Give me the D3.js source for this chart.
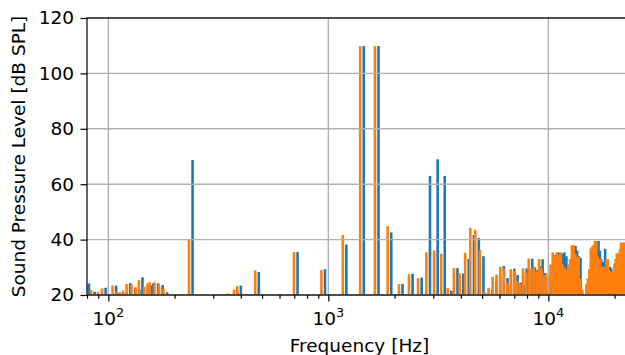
<!DOCTYPE html>
<html>
<head>
<meta charset="utf-8">
<script src="https://cdn.jsdelivr.net/npm/d3@7"></script>
<style>
  html, body { margin: 0; padding: 0; background: #fff; }
  svg { display: block; }
  text { font-family: "DejaVu Sans", sans-serif; fill: #000; }
</style>
</head>
<body>
<svg id="chart" width="625" height="355"></svg>
<script>
// ---- data ----
// Low-frequency components (Hz) below the fundamental
const lowFreqs  = [80.1, 85.0, 91.5, 95.4, 106.5, 111.0, 114.6, 118.9, 123.3, 129.9, 135.9, 140.3, 148.4, 153.6, 157.3, 165.3, 173.3, 181.6, 356.7, 379.8, 393.0];
const lowOrange = [19, 21.8, 21.2, 22.4, 23.4, 21, 21, 21.6, 24, 24, 22.8, 25.4, 23, 24.2, 24.6, 24.6, 23.6, 22.2, 20.6, 22, 23.2];
const lowBlue   = [24.2, 21.2, 20.5, 22.6, 23.4, 20.5, 20.8, 21, 24.3, 22.5, 22, 26.4, 22.5, 23.5, 24.2, 24.2, 23.6, 21, 19, 21, 23.4];

// Harmonic components (Hz)
const harmFreqs = [237, 474, 711, 948, 1185, 1422, 1659, 1896, 2133, 2370, 2607, 2844, 3081, 3318, 3555, 3792, 4029, 4266, 4503, 4740,
  4977, 5214, 5451, 5688, 5925, 6162, 6399, 6636, 6873, 7110, 7347, 7584, 7821, 8058, 8295, 8532, 8769, 9006, 9243, 9480,
  9717, 9954, 10191, 10428, 10665, 10902, 11139, 11376, 11613, 11850, 12087, 12324, 12561, 12798, 13035, 13272, 13509, 13746, 13983, 14220,
  14457, 14694, 14931, 15168, 15405, 15642, 15879, 16116, 16353, 16590, 16827, 17064, 17301, 17538, 17775, 18012, 18249, 18486, 18723, 18960,
  19197, 19434, 19671, 19908, 20145, 20382, 20619, 20856, 21093, 21330, 21567, 21804, 22041, 22278, 22515, 22752, 22989];
const harmOrange = [40, 28.9, 35.5, 29, 41.7, 109.9, 109.9, 44.9, 23.9, 27.5, 26.1, 35.4, 36.1, 34.9, 22.5, 29.7, 27.8, 35.3, 44.3, 43.5,
  36.2, 21.2, 22.6, 26.6, 27.4, 30.2, 29.6, 24.5, 29.3, 28.7, 25, 24, 29.6, 28, 33.2, 29.5, 30.2, 28.5, 33, 29.6,
  27, 27.8, 25.7, 31, 35.4, 34.5, 35.4, 34.5, 35.4, 31, 30, 29, 31, 33, 38, 38, 35, 33.8, 33.8, 26,
  22, 19, 19, 24, 26, 29.3, 36.8, 37.5, 38, 39.5, 39.5, 34, 32.9, 32.9, 30.2, 30.2, 29, 30, 32.9, 32.9,
  29, 28.4, 28.4, 28.4, 28.4, 30.5, 33, 35, 35, 33, 36.5, 38.9, 38.9, 38.9, 38.9, 35, 34];
const harmBlue = [68.7, 28.3, 35.5, 29.3, 38.2, 109.9, 109.9, 42.6, 24, 27.7, 26.3, 63, 69, 63, 21.6, 29.7, 27.8, 33, 41.7, 40.6,
  34, 20.6, 22, 25, 26.5, 30.5, 26.1, 24, 29.5, 27.2, 24.5, 23.5, 29.6, 27.5, 33.1, 30, 29, 30.4, 32.9, 28,
  26, 27, 24.5, 30, 34, 35.4, 33.5, 35, 35.4, 34, 28.5, 30, 30.5, 32, 37.7, 36, 34, 33.4, 21.8, 19,
  19, 21, 20.5, 23, 25, 28, 35, 36.5, 37, 39.5, 36, 33, 32, 31, 36.7, 30, 28.5, 29, 30.2, 29.5,
  28, 27.5, 31.4, 27, 26.5, 29, 32, 34, 33, 36, 37.5, 38, 38.9, 38.9, 37.5, 36, 35];

const yTicks = [20, 40, 60, 80, 100, 120];
const xMajorTicks = [100, 1000, 10000];
const xMajorExp = ["2", "3", "4"];
const xMinorTicks = [80, 90, 200, 300, 400, 500, 600, 700, 800, 900, 2000, 3000, 4000, 5000, 6000, 7000, 8000, 9000, 20000];

const xLabel = "Frequency [Hz]";
const yLabel = "Sound Pressure Level [dB SPL]";

// ---- layout ----
const mLeft = 87, mRight = 632, mTop = 18, mBottom = 295;
const svg = d3.select("#chart");
const x = d3.scaleLog().domain([80, 24000]).range([mLeft, mRight]);
const y = d3.scaleLinear().domain([20, 120]).range([mBottom, mTop]);

const fontSize = 18.5;
const tickLen = 6.5, minorLen = 3.7, pad = 6.5;
const barW = 2.6, gapOff = 0.5;
const blueC = "#1f77b4", orangeC = "#ff7f0e";

svg.append("defs").append("clipPath").attr("id", "clip")
  .append("rect").attr("x", mLeft).attr("y", mTop).attr("width", mRight - mLeft).attr("height", mBottom - mTop);

const series = [];
lowFreqs.forEach((f, i) => series.push({f, o: lowOrange[i], b: lowBlue[i]}));
harmFreqs.forEach((f, i) => series.push({f, o: harmOrange[i], b: harmBlue[i]}));

const plot = svg.append("g").attr("clip-path", "url(#clip)");

// blue bars (behind)
plot.append("g").selectAll("rect").data(series.filter(d => d.b > 20)).join("rect")
  .attr("x", d => x(d.f) + gapOff)
  .attr("width", barW)
  .attr("y", d => y(d.b))
  .attr("height", d => y(20) - y(d.b))
  .attr("fill", blueC);

// orange bars (front)
plot.append("g").selectAll("rect").data(series.filter(d => d.o > 20)).join("rect")
  .attr("x", d => x(d.f) - gapOff - barW)
  .attr("width", barW)
  .attr("y", d => y(d.o))
  .attr("height", d => y(20) - y(d.o))
  .attr("fill", orangeC);

// grid
const grid = svg.append("g").attr("stroke", "#b0b0b0").attr("stroke-width", 1.4);
grid.selectAll("line.h").data(yTicks).join("line").attr("class", "h")
  .attr("x1", mLeft).attr("x2", mRight).attr("y1", d => y(d)).attr("y2", d => y(d));
grid.selectAll("line.v").data(xMajorTicks).join("line").attr("class", "v")
  .attr("x1", d => x(d)).attr("x2", d => x(d)).attr("y1", mTop).attr("y2", mBottom);

// axes
const xAxisMajor = d3.axisBottom(x).tickValues(xMajorTicks).tickSize(tickLen).tickFormat("");
const xAxisMinor = d3.axisBottom(x).tickValues(xMinorTicks).tickSize(minorLen).tickFormat("");
const gxm = svg.append("g").attr("transform", `translate(0,${mBottom})`).call(xAxisMinor);
const gx = svg.append("g").attr("transform", `translate(0,${mBottom})`).call(xAxisMajor);
[gx, gxm].forEach(g => {
  g.select(".domain").remove();
  g.selectAll(".tick line").attr("stroke", "#000").attr("stroke-width", 1.2);
});

// x tick labels with superscripts
const xl = svg.append("g");
xMajorTicks.forEach((t, i) => {
  const txt = xl.append("text")
    .attr("x", x(t)).attr("y", 325)
    .attr("text-anchor", "middle")
    .attr("font-size", fontSize);
  txt.append("tspan").text("10");
  txt.append("tspan").attr("font-size", fontSize * 0.7).attr("dy", -8).text(xMajorExp[i]);
});

const yAxis = d3.axisLeft(y).tickValues(yTicks).tickSize(tickLen).tickPadding(pad);
const gy = svg.append("g").attr("transform", `translate(${mLeft},0)`).call(yAxis);
gy.select(".domain").remove();
gy.selectAll(".tick line").attr("stroke", "#000").attr("stroke-width", 1.2);
gy.selectAll(".tick text").attr("font-size", fontSize).attr("font-family", "DejaVu Sans").attr("fill", "#000");

// spines
const sp = svg.append("g").attr("stroke", "#000").attr("stroke-width", 1.2).attr("fill", "none");
sp.append("rect").attr("x", mLeft).attr("y", mTop).attr("width", mRight - mLeft).attr("height", mBottom - mTop);

// labels
svg.append("text").attr("x", (mLeft + mRight) / 2).attr("y", 352)
  .attr("text-anchor", "middle").attr("font-size", fontSize).text(xLabel);
svg.append("text").attr("transform", `translate(25,${(mTop + mBottom) / 2}) rotate(-90)`)
  .attr("text-anchor", "middle").attr("font-size", fontSize).text(yLabel);
</script>
</body>
</html>
